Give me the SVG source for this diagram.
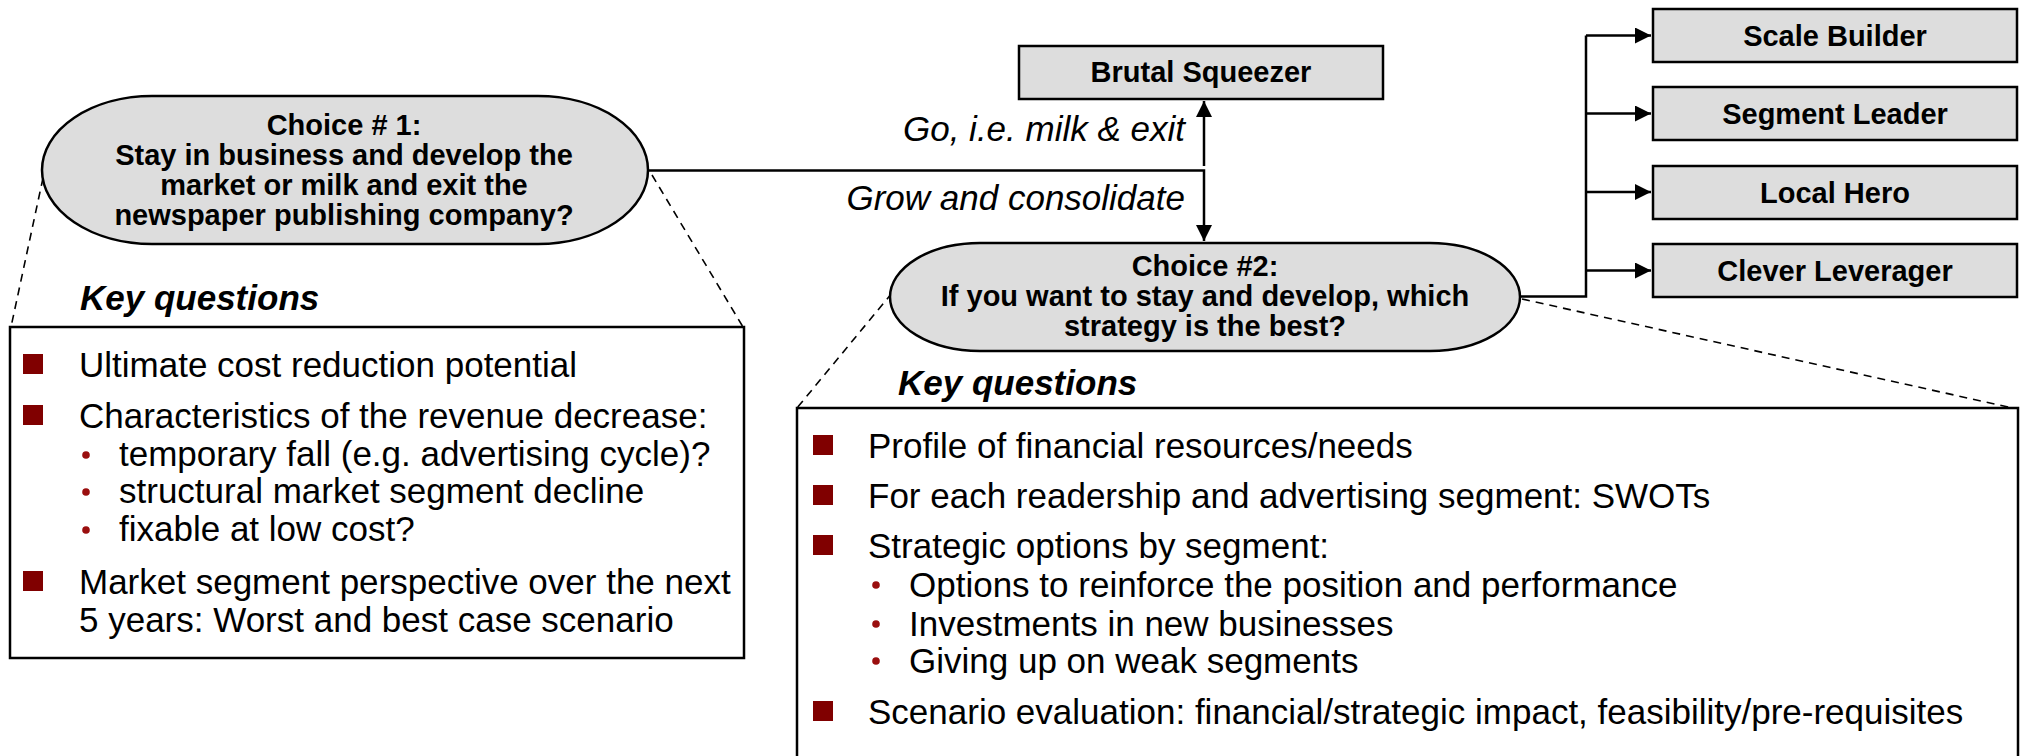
<svg xmlns="http://www.w3.org/2000/svg" width="2027" height="756" viewBox="0 0 2027 756">
  <style>
    .shape { fill: #dddddd; stroke: #000; stroke-width: 2.5; }
    .panel { fill: #fff; stroke: #000; stroke-width: 2.5; }
    .line { fill: none; stroke: #000; stroke-width: 2.5; }
    .dash { fill: none; stroke: #000; stroke-width: 1.6; stroke-dasharray: 8 6; }
    .hd { font-family: "Liberation Sans", Arial, sans-serif; font-weight: bold; font-size: 29px; text-anchor: middle; fill: #000; }
    .lbl { font-family: "Liberation Sans", Arial, sans-serif; font-style: italic; font-size: 35px; text-anchor: end; fill: #000; }
    .kq { font-family: "Liberation Sans", Arial, sans-serif; font-style: italic; font-weight: bold; font-size: 35px; fill: #000; }
    .tx { font-family: "Liberation Sans", Arial, sans-serif; font-size: 35px; fill: #000; }
    .sq { fill: #800000; }
    .dot { fill: #9a0e0e; }
  </style>
  <defs>
    <marker id="arrow" viewBox="0 0 10 10" refX="10" refY="5" markerWidth="17" markerHeight="16" markerUnits="userSpaceOnUse" orient="auto">
      <path d="M0,0 L10,5 L0,10 z" fill="#000"/>
    </marker>
  </defs>

  <!-- connectors -->
  <g id="connectors">
    <path class="line" d="M648,170.5 H1204 V241" marker-end="url(#arrow)"/>
    <path class="line" d="M1204,166 V101" marker-end="url(#arrow)"/>
    <path class="line" d="M1520,296.5 H1586 V35.5"/>
    <path class="line" d="M1586,35.5 H1651" marker-end="url(#arrow)"/>
    <path class="line" d="M1586,113.5 H1651" marker-end="url(#arrow)"/>
    <path class="line" d="M1586,192 H1651" marker-end="url(#arrow)"/>
    <path class="line" d="M1586,270.5 H1651" marker-end="url(#arrow)"/>
    <text class="lbl" x="1185" y="141">Go, i.e. milk &amp; exit</text>
    <text class="lbl" x="1185" y="210">Grow and consolidate</text>
    <!-- zoom-out guides from each choice to its question panel -->
    <line class="dash" x1="43" y1="178" x2="11" y2="327"/>
    <line class="dash" x1="652" y1="175" x2="743" y2="327"/>
    <line class="dash" x1="892" y1="293" x2="797" y2="408"/>
    <line class="dash" x1="1522" y1="299" x2="2017" y2="409"/>
  </g>

  <!-- choice 1 -->
  <g id="choice1">
    <rect class="shape" x="42" y="96" width="606" height="148" rx="110" ry="74"/>
    <text class="hd" x="344" y="135">Choice # 1:</text>
    <text class="hd" x="344" y="165">Stay in business and develop the</text>
    <text class="hd" x="344" y="195">market or milk and exit the</text>
    <text class="hd" x="344" y="225">newspaper publishing company?</text>
  </g>

  <!-- choice 2 -->
  <g id="choice2">
    <rect class="shape" x="890" y="243" width="630" height="108" rx="90" ry="54"/>
    <text class="hd" x="1205" y="276">Choice #2:</text>
    <text class="hd" x="1205" y="306">If you want to stay and develop, which</text>
    <text class="hd" x="1205" y="336">strategy is the best?</text>
  </g>

  <!-- outcomes -->
  <g id="brutal-squeezer">
    <rect class="shape" x="1019" y="46" width="364" height="53"/>
    <text class="hd" x="1201" y="82">Brutal Squeezer</text>
  </g>
  <g id="scale-builder">
    <rect class="shape" x="1653" y="9" width="364" height="53"/>
    <text class="hd" x="1835" y="46">Scale Builder</text>
  </g>
  <g id="segment-leader">
    <rect class="shape" x="1653" y="87" width="364" height="53"/>
    <text class="hd" x="1835" y="124">Segment Leader</text>
  </g>
  <g id="local-hero">
    <rect class="shape" x="1653" y="166" width="364" height="53"/>
    <text class="hd" x="1835" y="203">Local Hero</text>
  </g>
  <g id="clever-leverager">
    <rect class="shape" x="1653" y="244" width="364" height="53"/>
    <text class="hd" x="1835" y="281">Clever Leverager</text>
  </g>

  <!-- key questions for choice 1 -->
  <g id="questions1">
    <text class="kq" x="80" y="310">Key questions</text>
    <rect class="panel" x="10" y="327" width="734" height="331"/>
    <rect class="sq" x="23" y="354" width="20" height="20"/>
    <text class="tx" x="79" y="377">Ultimate cost reduction potential</text>
    <rect class="sq" x="23" y="405" width="20" height="20"/>
    <text class="tx" x="79" y="428">Characteristics of the revenue decrease:</text>
    <circle class="dot" cx="86" cy="455" r="3.8"/>
    <text class="tx" x="119" y="466">temporary fall (e.g. advertising cycle)?</text>
    <circle class="dot" cx="86" cy="492" r="3.8"/>
    <text class="tx" x="119" y="503">structural market segment decline</text>
    <circle class="dot" cx="86" cy="530" r="3.8"/>
    <text class="tx" x="119" y="541">fixable at low cost?</text>
    <rect class="sq" x="23" y="571" width="20" height="20"/>
    <text class="tx" x="79" y="594">Market segment perspective over the next</text>
    <text class="tx" x="79" y="632">5 years: Worst and best case scenario</text>
  </g>

  <!-- key questions for choice 2 -->
  <g id="questions2">
    <text class="kq" x="898" y="395">Key questions</text>
    <rect class="panel" x="797" y="408" width="1221" height="360"/>
    <rect class="sq" x="813" y="435" width="20" height="20"/>
    <text class="tx" x="868" y="458">Profile of financial resources/needs</text>
    <rect class="sq" x="813" y="485" width="20" height="20"/>
    <text class="tx" x="868" y="508">For each readership and advertising segment: SWOTs</text>
    <rect class="sq" x="813" y="535" width="20" height="20"/>
    <text class="tx" x="868" y="558">Strategic options by segment:</text>
    <circle class="dot" cx="876" cy="585" r="3.8"/>
    <text class="tx" x="909" y="597">Options to reinforce the position and performance</text>
    <circle class="dot" cx="876" cy="624" r="3.8"/>
    <text class="tx" x="909" y="636">Investments in new businesses</text>
    <circle class="dot" cx="876" cy="661" r="3.8"/>
    <text class="tx" x="909" y="673">Giving up on weak segments</text>
    <rect class="sq" x="813" y="701" width="20" height="20"/>
    <text class="tx" x="868" y="724">Scenario evaluation: financial/strategic impact, feasibility/pre-requisites</text>
  </g>
</svg>
